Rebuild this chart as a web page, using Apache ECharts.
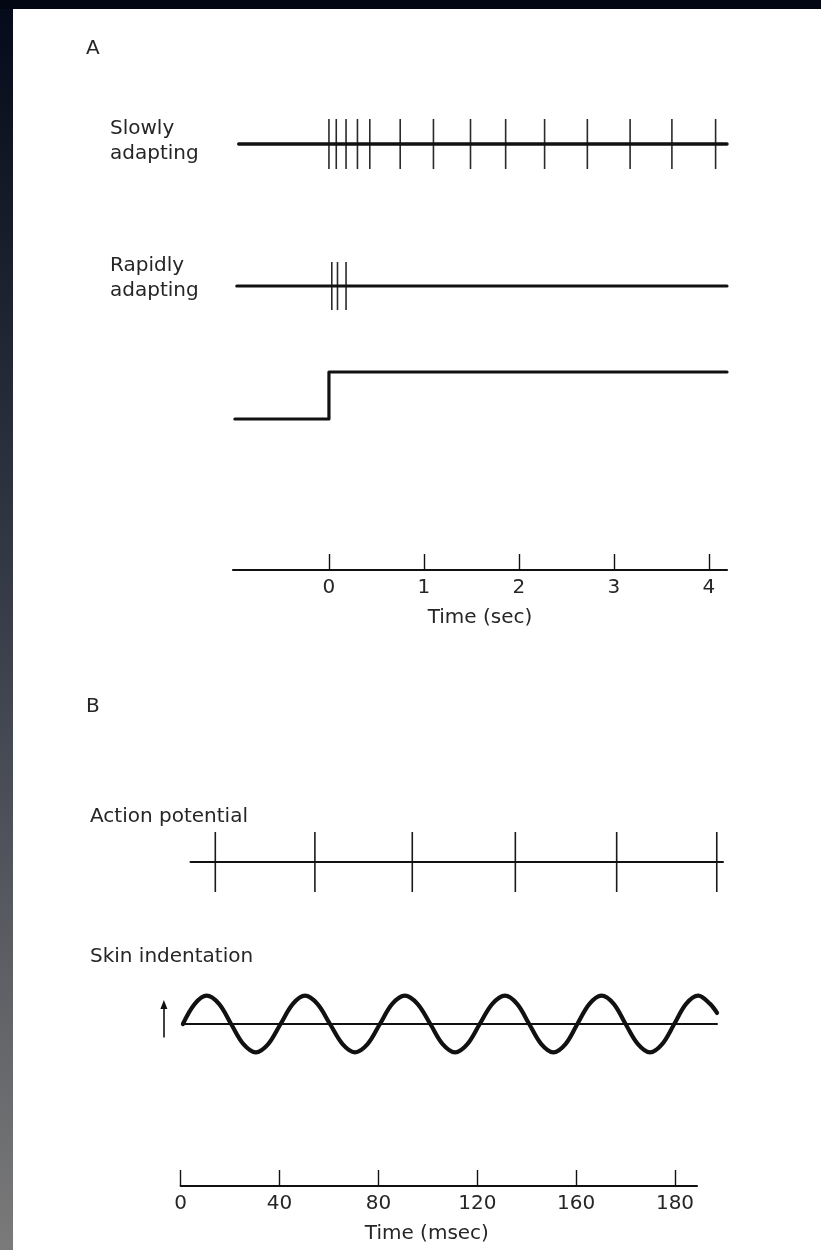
<!DOCTYPE html>
<html>
<head>
<meta charset="utf-8">
<script src="https://cdn.jsdelivr.net/npm/echarts@6/dist/echarts.min.js"></script>
<style>
  html, body { margin: 0; padding: 0; background: #ffffff; }
  #chart { width: 821px; height: 1250px; }
</style>
</head>
<body>
<div id="chart"></div>
<script>
// ---- Panel A: responses to a maintained step (time in seconds, onset at 0) ----
const slowSpikes = [0, 0.077, 0.18, 0.30, 0.43, 0.75, 1.10, 1.49, 1.86, 2.27, 2.72, 3.17, 3.61, 4.07];
const rapidSpikes = [0.03, 0.09, 0.18];
const slowBaseline = [[-0.95, 0], [4.19, 0]];
const rapidBaseline = [[-0.97, 0], [4.19, 0]];
const stepTrace = [[-0.99, 0], [0, 0], [0, 1], [4.19, 1]];
const secTicks = [0, 1, 2, 3, 4];
const secLabels = ['0', '1', '2', '3', '4'];

// ---- Panel B: responses to a vibrating probe (time in msec) ----
const apSpikes = [14.0, 54.3, 93.7, 135.4, 176.4, 216.9];
const apBaseline = [[4.0, 0], [219.4, 0]];
// probe displacement (relative to rest, +1 = peak indentation)
const skinTrace = [
  [0.9, 0], [5.7, 0.71], [10.5, 1], [15.5, 0.71], [20.4, 0], [25.4, -0.71], [30.4, -1], [35.4, -0.71],
  [40.4, 0], [45.4, 0.71], [50.3, 1], [55.3, 0.71], [60.4, 0], [65.5, -0.71], [70.5, -1], [75.6, -0.71],
  [80.6, 0], [85.6, 0.71], [90.7, 1], [95.8, 0.71], [101, 0], [106, -0.71], [111, -1], [116, -0.71],
  [121, 0], [126.1, 0.71], [131.2, 1], [136.1, 0.71], [141, 0], [145.9, -0.71], [150.8, -1], [155.7, -0.71],
  [160.5, 0], [165.4, 0.71], [170.3, 1], [175.2, 0.71], [180, 0], [185, -0.71], [189.9, -1], [194.8, -0.71],
  [199.7, 0], [204.5, 0.71], [209.4, 1], [214.2, 0.71], [217, 0.39]
];
const skinRest = [[0.9, 0], [217, 0]];
const pressArrow = [[-6.8, -0.48], [-6.8, 0.69]];
const msecTicks = [0, 40, 80, 120, 160, 200];
const msecLabels = ['0', '40', '80', '120', '160', '180'];

const FONT = 'DejaVu Sans';
const INK = '#111111';
const TEXT = '#262626';

const chart = echarts.init(document.getElementById('chart'), null, { renderer: 'canvas' });

// horizontal scales shared by the traces of each panel
const secScale = { min: -1.01, max: 4.19, left: 233, pxPer: 95 };
const msScale = { min: -8, max: 222, zero: 180.7, pxPer: 2.4715 };

function secGrid(top, height) {
  return { left: secScale.left, width: (secScale.max - secScale.min) * secScale.pxPer, top, height };
}
function msGrid(top, height, min, max) {
  return { left: msScale.zero + min * msScale.pxPer, width: (max - min) * msScale.pxPer, top, height };
}

function hiddenX(gridIndex, min, max) {
  return { type: 'value', gridIndex, min, max, show: false };
}
function hiddenY(gridIndex, min, max) {
  return { type: 'value', gridIndex, min, max, show: false };
}

function spikes(axisIndex, times, width, color) {
  return {
    type: 'custom', xAxisIndex: axisIndex, yAxisIndex: axisIndex, silent: true, clip: false,
    data: times.map(t => [t, 0]),
    encode: { x: 0, y: 1 },
    renderItem(params, api) {
      const t = api.value(0);
      const a = api.coord([t, 1]);
      const b = api.coord([t, -1]);
      return {
        type: 'line',
        shape: { x1: a[0], y1: a[1], x2: b[0], y2: b[1] },
        style: { stroke: color, lineWidth: width }
      };
    }
  };
}

function trace(axisIndex, data, width, extra) {
  return Object.assign({
    type: 'line', xAxisIndex: axisIndex, yAxisIndex: axisIndex, data,
    symbol: 'none', silent: true, clip: false,
    lineStyle: { color: INK, width, cap: 'round', join: 'round' }
  }, extra || {});
}

function timeAxis(gridIndex, min, max, ticks, labels, name, nameShift) {
  return {
    type: 'value', gridIndex, min, max,
    axisLine: { show: true, lineStyle: { color: INK, width: 2.2 } },
    axisTick: { show: true, inside: true, length: 16, customValues: ticks, lineStyle: { color: INK, width: 1.4 } },
    axisLabel: {
      show: true, customValues: ticks, margin: 8,
      formatter: v => labels[ticks.indexOf(v)],
      fontFamily: FONT, fontSize: 20, color: TEXT
    },
    splitLine: { show: false },
    name, nameLocation: 'middle', nameGap: 38,
    nameTextStyle: { fontFamily: FONT, fontSize: 20, color: TEXT, padding: nameShift }
  };
}

function label(x, y, text) {
  return {
    type: 'text', left: x, top: y, silent: true,
    style: { text, fontFamily: FONT, fontSize: 20, lineHeight: 25, fill: TEXT }
  };
}

const option = {
  animation: false,
  backgroundColor: '#ffffff',
  grid: [
    secGrid(119, 50),                 // 0 slowly adapting
    secGrid(262, 48),                 // 1 rapidly adapting
    secGrid(372, 47),                 // 2 stimulus step
    secGrid(520, 50),                 // 3 seconds axis
    msGrid(832, 60, msScale.min, msScale.max),   // 4 action potentials
    msGrid(990, 68, msScale.min, msScale.max),   // 5 skin indentation
    msGrid(1136, 50, 0, 208.9)        // 6 msec axis
  ],
  xAxis: [
    hiddenX(0, secScale.min, secScale.max),
    hiddenX(1, secScale.min, secScale.max),
    hiddenX(2, secScale.min, secScale.max),
    timeAxis(3, secScale.min, secScale.max, secTicks, secLabels, 'Time (sec)', [0, 0, 0, 0]),
    hiddenX(4, msScale.min, msScale.max),
    hiddenX(5, msScale.min, msScale.max),
    timeAxis(6, 0, 208.9, msecTicks, msecLabels, 'Time (msec)', [0, 24, 0, 0])
  ],
  yAxis: [
    hiddenY(0, -1, 1),
    hiddenY(1, -1, 1),
    hiddenY(2, 0, 1),
    hiddenY(3, 0, 1),
    hiddenY(4, -1, 1),
    hiddenY(5, -1.2, 1.2),
    hiddenY(6, 0, 1)
  ],
  series: [
    trace(0, slowBaseline, 3.4),
    spikes(0, slowSpikes, 1.6, '#2a2a2a'),
    trace(1, rapidBaseline, 3.2),
    spikes(1, rapidSpikes, 1.6, '#2a2a2a'),
    trace(2, stepTrace, 3.2),
    trace(3, [], 1),
    trace(4, apBaseline, 2.2),
    spikes(4, apSpikes, 1.6, '#1a1a1a'),
    trace(5, skinRest, 2, {
      markLine: {
        silent: true, animation: false,
        symbol: ['none', 'triangle'], symbolSize: [7, 9],
        label: { show: false },
        lineStyle: { color: INK, width: 1.6, type: 'solid' },
        data: [[{ coord: pressArrow[0] }, { coord: pressArrow[1] }]]
      }
    }),
    trace(5, skinTrace, 4.2, { smooth: 0.35 }),
    trace(6, [], 1)
  ],
  graphic: [
    // scanned page edge
    {
      type: 'rect', left: 0, top: 0, z: 100, silent: true,
      shape: { width: 13, height: 1250 },
      style: {
        fill: new echarts.graphic.LinearGradient(0, 0, 0, 1, [
          { offset: 0, color: '#050a1a' },
          { offset: 0.45, color: '#333845' },
          { offset: 1, color: '#7a7a7a' }
        ])
      }
    },
    {
      type: 'rect', left: 0, top: 0, z: 100, silent: true,
      shape: { width: 821, height: 9 },
      style: { fill: '#030714' }
    },
    label(86, 36, 'A'),
    label(110, 116, 'Slowly\nadapting'),
    label(110, 253, 'Rapidly\nadapting'),
    label(86, 694, 'B'),
    label(90, 804, 'Action potential'),
    label(90, 944, 'Skin indentation')
  ]
};

chart.setOption(option);
</script>
</body>
</html>
